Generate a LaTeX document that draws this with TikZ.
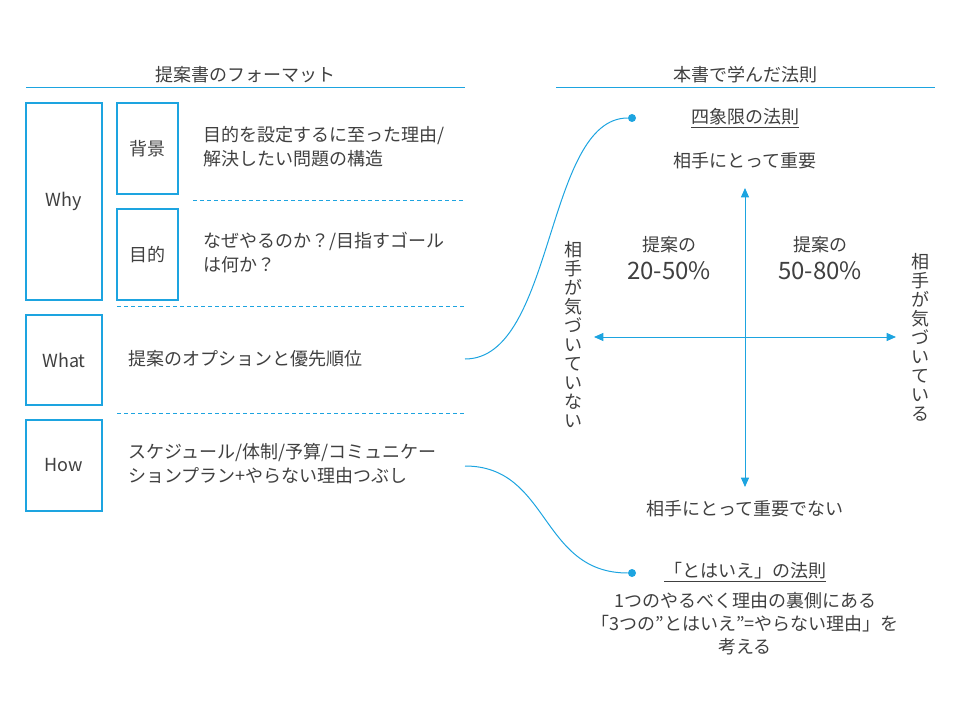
\documentclass[tikz,border=0pt]{standalone}
\usepackage{fontspec}
\setmainfont{Noto Sans CJK JP}
\usetikzlibrary{arrows.meta}
\definecolor{myblue}{RGB}{29,164,224}
\definecolor{mytext}{RGB}{64,64,64}

\begin{document}
\begin{tikzpicture}[x=0.75pt,y=-0.75pt,
  box/.style={draw=myblue,line width=0.9pt,minimum width=57pt,inner sep=0pt,font=\fontsize{13.5}{18}\selectfont,text=mytext},
  subbox/.style={box,minimum width=45.75pt,minimum height=68.25pt},
  txt/.style={font=\fontsize{13.5}{18}\selectfont,text=mytext,inner sep=0pt},
  bigtxt/.style={font=\fontsize{18}{20}\selectfont,text=mytext,inner sep=0pt},
  sep/.style={myblue,line width=0.75pt,dash pattern=on 3pt off 2.25pt},
  conn/.style={myblue,line width=0.75pt},
  axis/.style={myblue,line width=0.75pt,{Triangle[length=7pt,width=6pt]}-{Triangle[length=7pt,width=6pt]}},
  dotnode/.style={circle,fill=myblue,inner sep=0pt,minimum size=6pt}]
  \useasboundingbox (0,0) rectangle (960,720);
  % headings
  \node[txt] (fmtHead) at (245,75) {提案書のフォーマット};
  \node[txt] (ruleHead) at (745,75) {本書で学んだ法則};
  \draw[conn] (26,88) -- (465,88);
  \draw[conn] (556,88) -- (935,88);
  % left: format boxes
  \node[box,minimum height=147.75pt] (why) at (64,201.5) {Why};
  \node[subbox] (bg) at (147.5,148.5) {背景};
  \node[subbox] (goal) at (147.5,254.5) {目的};
  \node[box,minimum height=67.5pt] (what) at (64,360) {What};
  \node[box,minimum height=68.25pt] (how) at (64,465.5) {How};
  % left: descriptions
  \node[txt,anchor=west,align=left] (bgText) at (203,147) {目的を設定するに至った理由/\\解決したい問題の構造};
  \node[txt,anchor=west,align=left] (goalText) at (203,253) {なぜやるのか？/目指すゴール\\は何か？};
  \node[txt,anchor=west] (whatText) at (128,359) {提案のオプションと優先順位};
  \node[txt,anchor=west,align=left] (howText) at (128,464) {スケジュール/体制/予算/コミュニケー\\ションプラン+やらない理由つぶし};
  % dashed separators
  \draw[sep] (193,201) -- (465,201);
  \draw[sep] (117,307) -- (465,307);
  \draw[sep] (117,413) -- (465,413);
  % right: four quadrants
  \node[txt] (quadTitle) at (745,118) {\underline{四象限の法則}};
  \node[txt] (topLabel) at (745,161) {相手にとって重要};
  \node[txt] (botLabel) at (745,509) {相手にとって重要でない};
  \node[txt,align=center,font=\fontsize{13.5}{14.25}\selectfont] (leftLabel) at (573,335) {相\\手\\が\\気\\づ\\い\\て\\い\\な\\い};
  \node[txt,align=center,font=\fontsize{13.5}{14.25}\selectfont] (rightLabel) at (920,337) {相\\手\\が\\気\\づ\\い\\て\\い\\る};
  \node[txt] (qLeftA) at (669,245) {提案の};
  \node[bigtxt] (qLeftB) at (669,271) {20-50\%};
  \node[txt] (qRightA) at (820,245) {提案の};
  \node[bigtxt] (qRightB) at (820,271) {50-80\%};
  \coordinate (vTop) at (745,188);
  \coordinate (vBot) at (745,487);
  \coordinate (hLeft) at (594,337);
  \coordinate (hRight) at (896,337);
  \draw[axis] (vBot) -- (vTop);
  \draw[axis] (hLeft) -- (hRight);
  % right: "tohaie" rule
  \node[txt] (butTitle) at (745,572) {\underline{「とはいえ」の法則}};
  \node[txt,align=center,font=\fontsize{13.5}{17}\selectfont] (butText) at (745,623.5) {1つのやるべく理由の裏側にある\\「3つの"とはいえ"=やらない理由」を\\考える};
  % connectors
  \node[dotnode] (quadDot) at (632,118) {};
  \node[dotnode] (butDot) at (632,573) {};
  \coordinate (whatEnd) at (465,359);
  \coordinate (howEnd) at (465,466);
  \draw[conn] (whatEnd) .. controls (555,359) and (545,118) .. (quadDot);
  \draw[conn] (howEnd) .. controls (550,466) and (540,573) .. (butDot);
\end{tikzpicture}
\end{document}
